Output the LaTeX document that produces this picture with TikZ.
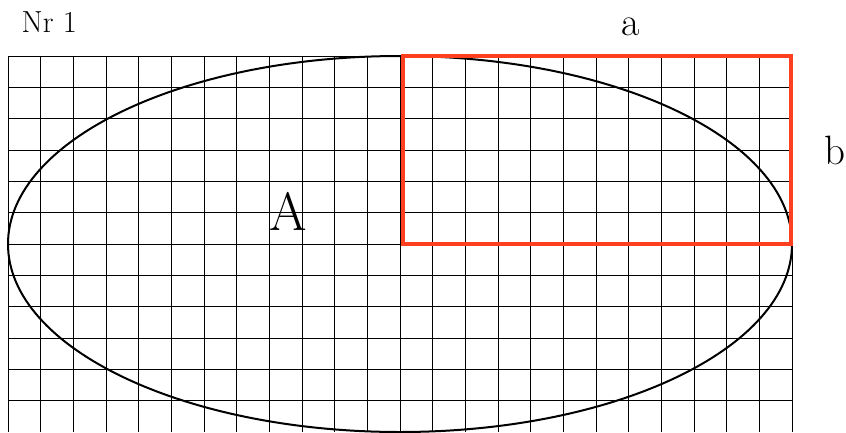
\documentclass[tikz,border=0pt]{standalone}
\usepackage{fontspec}
\definecolor{rectred}{RGB}{255,64,32}
\tikzset{
  gridline/.style={black,line width=0.9pt},
  ellipseline/.style={black,line width=2pt},
  redrect/.style={draw=rectred,line width=4pt},
  lbl/.style={inner sep=0pt,anchor=base,text=black}
}
\begin{document}
\begin{tikzpicture}[x=1pt,y=-1pt]
\useasboundingbox (0,0) rectangle (846,432);
\begin{scope}
\clip (0,0) rectangle (846,432);
\foreach \k in {0,...,24}{
  \draw[gridline] ({8+\k*32.6667},56) -- ({8+\k*32.6667},432);
}
\foreach \j in {0,...,11}{
  \draw[gridline] (8,{56+\j*31.3333}) -- (792,{56+\j*31.3333});
}
\draw[ellipseline] (400,244) ellipse [x radius=392, y radius=188];
\end{scope}
\draw[redrect] (402.5,56) rectangle (790.5,244);
\node[lbl,anchor=base west] (nr) at (21.5,32) {\fontsize{30.5}{36}\selectfont\addfontfeature{FakeBold=1}Nr 1};
\node[lbl] (a) at (631,35) {\fontsize{40}{48}\selectfont\addfontfeature{FakeBold=0.8}a};
\node[lbl] (b) at (834.5,164) {\fontsize{41}{48}\selectfont\addfontfeature{FakeBold=0.8}b};
\node[lbl] (A) at (288,230) {\fontsize{54}{64}\selectfont\addfontfeature{FakeBold=2}A};
\end{tikzpicture}
\end{document}
